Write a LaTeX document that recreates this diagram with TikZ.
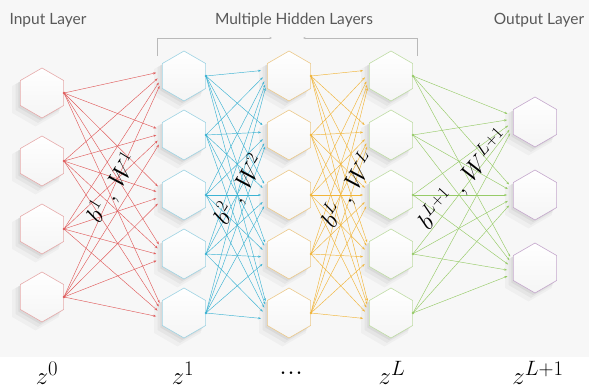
\documentclass[tikz,border=0pt]{standalone}
\usepackage{fontspec}
\newfontfamily\layerfont{Lato}
\usetikzlibrary{arrows.meta,shapes.geometric,shadows}
\definecolor{wireA}{HTML}{E05C5C}
\definecolor{wireB}{HTML}{3DB3D3}
\definecolor{wireC}{HTML}{F1B53A}
\definecolor{wireD}{HTML}{97CB68}
\definecolor{rimA}{HTML}{E6AAAA}
\definecolor{rimB}{HTML}{9ED3E3}
\definecolor{rimC}{HTML}{ECC98A}
\definecolor{rimD}{HTML}{BFDCA5}
\definecolor{rimE}{HTML}{C4A7CC}
\definecolor{photo}{HTML}{F7F7F7}
\tikzset{
  hexcell/.style={regular polygon, regular polygon sides=6, shape border rotate=30,
                  minimum size=50pt, inner sep=0pt, line width=0.6pt,
                  top color=white, bottom color=gray!8,
                  drop shadow={shadow xshift=-6pt, shadow yshift=-6pt,
                               shadow scale=1.08, fill=black, opacity=.03},
                  drop shadow={shadow xshift=-4pt, shadow yshift=-4pt,
                               shadow scale=1.03, fill=black, opacity=.04},
                  drop shadow={shadow xshift=-2pt, shadow yshift=-2pt,
                               fill=black, opacity=.05}},
  % one weighted link, ending a little before the next cell
  wire/.style={draw=#1, line width=0.45pt,
               -{Stealth[length=3pt,width=2.2pt]}, shorten >=6pt},
  layertitle/.style={font=\layerfont\fontsize{15.5}{18}\selectfont, text=gray!70!black},
  wlabel/.style={font=\fontsize{27}{32}\selectfont, inner sep=0pt},
  zlabel/.style={font=\fontsize{32}{38}\selectfont, inner sep=0pt},
  bracket/.style={draw=gray!55, line width=0.6pt, -{Stealth[length=2.5pt,width=2pt]}},
}
\def\inlist{1/93, 2/161, 3/229, 4/297}
\def\hidlist{1/76, 2/135, 3/195, 4/254, 5/313}
\def\outlist{1/122, 2/195, 3/268}
% all links from layer #1 (#2 cells) to layer #3 (#4 cells) in colour #5
\newcommand{\linkset}[5]{%
  \foreach \s in {1,...,#2}{%
    \foreach \t in {1,...,#4}{%
      \pgfmathsetmacro\off{(\s-(#2+1)/2)*3}
      \draw[wire=#5] (#1\s.east) -- ([yshift=-\off pt]#3\t.west);}
    \fill[#5] (#1\s.east) circle (1.4pt);}}

\begin{document}
\begin{tikzpicture}[x=1pt, y=-1pt]
\useasboundingbox (0,0) rectangle (589,389);
\fill[photo] (0,0) rectangle (589,357);
% --- cells ---
\foreach \i/\y in \inlist  {\node[hexcell, draw=rimA] (x\i) at (42,\y) {};}
\foreach \i/\y in \hidlist {\node[hexcell, draw=rimB] (a\i) at (184,\y) {};}
\foreach \i/\y in \hidlist {\node[hexcell, draw=rimC] (c\i) at (289,\y) {};}
\foreach \i/\y in \hidlist {\node[hexcell, draw=rimD] (l\i) at (391,\y) {};}
\foreach \i/\y in \outlist {\node[hexcell, draw=rimE] (o\i) at (535,\y) {};}
% --- links ---
\linkset{x}{4}{a}{5}{wireA}
\linkset{a}{5}{c}{5}{wireB}
\linkset{c}{5}{l}{5}{wireC}
\linkset{l}{5}{o}{3}{wireD}
% --- weights ---
\node[wlabel, rotate=58] (w1) at (113,188) {$b^1\;,\,W^1$};
\node[wlabel, rotate=58] (w2) at (240,190) {$b^2\;,\,W^2$};
\node[wlabel, rotate=58] (wl) at (349,190) {$b^L\;,\,W^L$};
\node[wlabel, rotate=48] (wo) at (464,180) {$b^{L+1}\;,\,W^{L+1}$};
% --- titles ---
\node[layertitle] (tin)  at (48,20)  {Input Layer};
\node[layertitle] (thid) at (294,20) {Multiple Hidden Layers};
\node[layertitle] (tout) at (539,20) {Output Layer};
\coordinate (bl0) at (157,56);
\coordinate (bl1) at (157,38);
\coordinate (bl2) at (272,38);
\coordinate (br0) at (417,56);
\coordinate (br1) at (417,38);
\coordinate (br2) at (303,38);
\draw[bracket] (bl0) -- (bl1) -- (bl2);
\draw[bracket] (br0) -- (br1) -- (br2);
% --- layer names ---
\node[zlabel] (z0) at (47,373)  {$z^0$};
\node[zlabel] (z1) at (183,373) {$z^1$};
\node[zlabel] (zd) at (291,373) {...};
\node[zlabel] (zl) at (392,373) {$z^L$};
\node[zlabel] (zo) at (538,373) {$z^{L+1}$};
\end{tikzpicture}
\end{document}
